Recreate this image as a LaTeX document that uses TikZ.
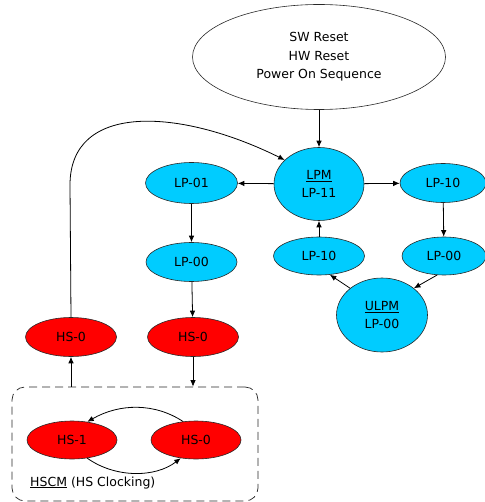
\documentclass[tikz,border=0pt]{standalone}
\usepackage{fontspec}
\setmainfont{DejaVu Sans}
\usetikzlibrary{shapes.geometric,arrows.meta}
\definecolor{lpcyan}{RGB}{0,204,255}
\definecolor{hsred}{RGB}{255,0,0}
\definecolor{edge}{RGB}{40,40,40}
\tikzset{
  every node/.style={font=\fontsize{12.5}{18.5}\selectfont, align=center, inner sep=0pt},
  lpnode/.style={ellipse, draw=edge, line width=0.6pt, fill=lpcyan, minimum width=91pt, minimum height=39pt},
  lpbig/.style={ellipse, draw=edge, line width=0.6pt, fill=lpcyan, minimum width=90pt, minimum height=73pt},
  hsnode/.style={ellipse, draw=edge, line width=0.6pt, fill=hsred, minimum width=91pt, minimum height=39pt},
  topnode/.style={ellipse, draw=edge, line width=0.6pt, fill=white, minimum width=253pt, minimum height=105pt},
  arr/.style={draw=black, line width=0.8pt, -{Latex[length=6.5pt,width=5.5pt]}},
  hscmbox/.style={draw=edge, line width=0.7pt, dash pattern=on 8pt off 5pt, rounded corners=13pt, minimum width=246pt, minimum height=114pt}
}
\begin{document}
\begin{tikzpicture}[x=1pt,y=-1pt]
\useasboundingbox (0,0) rectangle (484,502);
\node[topnode] (reset) at (319,57) {SW Reset\\HW Reset\\Power On Sequence};
\node[lpbig] (lpm) at (319,184) {\underline{LPM}\\LP-11};
\node[lpnode, minimum width=92pt, minimum height=41pt] (lp01) at (191.5,183) {LP-01};
\node[lpnode, minimum width=86pt] (lp10r) at (443,183) {LP-10};
\node[lpnode] (lp00l) at (191.5,262) {LP-00};
\node[lpnode, minimum height=38pt] (lp10m) at (319,256) {LP-10};
\node[lpnode, minimum width=84pt, minimum height=38pt] (lp00r) at (444,256) {LP-00};
\node[lpbig, minimum width=91pt, minimum height=74pt] (ulpm) at (382,315) {\underline{ULPM}\\LP-00};
\node[hsnode] (hs0a) at (71,337) {HS-0};
\node[hsnode] (hs0b) at (193,337) {HS-0};
\node[hscmbox] (hscm) at (135,444) {};
\node[hsnode, minimum width=90pt, minimum height=38pt] (hs1) at (72,440) {HS-1};
\node[hsnode, minimum width=90pt, minimum height=38pt] (hs0c) at (196,440) {HS-0};
\node[anchor=base west] (hscmlabel) at (30,486) {\underline{HSCM} (HS Clocking)};
\coordinate (boxa) at (hscm.north -| hs0a);
\coordinate (boxb) at (hscm.north -| hs0b);

\draw[arr] (reset) -- (lpm);
\draw[arr] (lpm) -- (lp01);
\draw[arr] (lpm) -- (lp10r);
\draw[arr] (lp01) -- (lp00l);
\draw[arr] (lp00l) -- (hs0b);
\draw[arr] (lp10r) -- (lp00r);
\draw[arr] (lp00r.250) -- (ulpm.40);
\draw[arr] (ulpm.140) -- (lp10m.300);
\draw[arr] (lp10m) -- (lpm);
\draw[arr] (boxa) -- (hs0a);
\draw[arr] (hs0b) -- (boxb);
\draw[arr] (hs0a.north) -- (70,185) .. controls (70,102) and (180,108) .. (lpm.145);
\draw[arr] (hs0c.125) .. controls (155,403) and (120,403) .. (hs1.50);
\draw[arr] (hs1.-50) .. controls (115,478) and (155,478) .. (hs0c.-130);
\end{tikzpicture}
\end{document}
